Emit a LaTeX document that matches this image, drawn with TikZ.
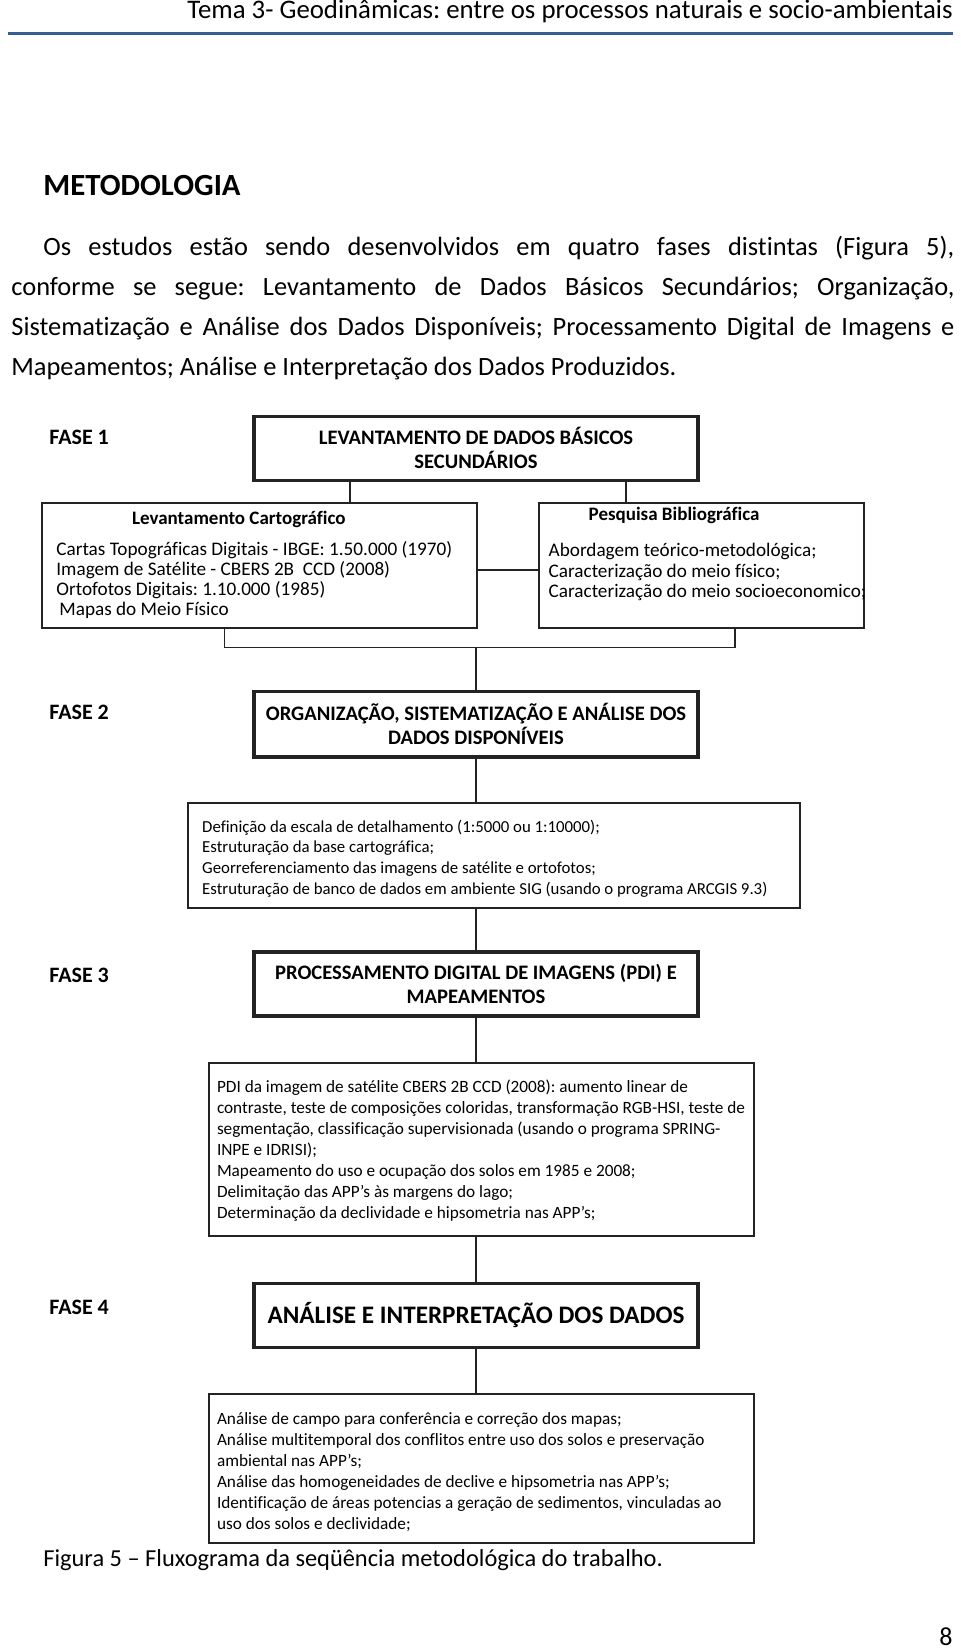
\documentclass[tikz,border=0pt]{standalone}
\usepackage{fontspec}
\setmainfont{Carlito}[Ligatures={TeX,NoCommon}]
\usetikzlibrary{positioning}
\frenchspacing
\definecolor{rulecolor}{RGB}{54,95,145}
\definecolor{inkgray}{RGB}{35,35,35}
\tikzstyle{phasebox} = [rectangle, draw=inkgray, line width=1.6pt, minimum width=222pt, minimum height=32pt, inner sep=0pt, align=center, font=\bfseries\fontsize{10.3}{12}\selectfont]
\tikzstyle{infobox} = [rectangle, draw=inkgray, line width=1pt, inner sep=0pt]
\tikzstyle{phaselabel} = [anchor=base west, inner sep=0pt, font=\bfseries\fontsize{11}{13}\selectfont]
\tikzstyle{boxhead} = [anchor=base west, inner sep=0pt, font=\bfseries\fontsize{9.5}{11}\selectfont]
\tikzstyle{boxlist} = [anchor=base west, inner sep=0pt, text width=220pt, align=flush left, font=\fontsize{9.6}{10.15}\selectfont]
\tikzstyle{smalllist} = [anchor=base west, inner sep=0pt, text width=300pt, align=flush left, font=\fontsize{8.62}{10.5}\selectfont]
\tikzstyle{link} = [draw=inkgray, line width=0.8pt]

\begin{document}
\begin{tikzpicture}[x=0.5pt, y=-0.5pt]
\useasboundingbox (0,0) rectangle (960,1651);
\fill[white] (0,0) rectangle (960,1651);

% page header
\node (header) [anchor=base east, inner sep=0pt, font=\fontsize{13.4}{15}\selectfont] at (953,18.5) {Tema 3- Geodinâmicas: entre os processos naturais e socio-ambientais};
\draw[rulecolor, line width=1.4pt] (8,33.5) -- (953,33.5);

% section text
\node (secao) [anchor=base west, inner sep=0pt, font=\bfseries\fontsize{15.4}{17}\selectfont] at (43,195) {METODOLOGIA};
\node (intro) [anchor=base west, inner sep=0pt, text width=471.5pt, align=justify, font=\fontsize{13.2}{20}\selectfont] at (11,255) {\hspace*{16pt}Os estudos estão sendo desenvolvidos em quatro fases distintas (Figura 5),\linebreak conforme se segue: Levantamento de Dados Básicos Secundários; Organização,\linebreak Sistematização e Análise dos Dados Disponíveis; Processamento Digital de Imagens e\linebreak Mapeamentos; Análise e Interpretação dos Dados Produzidos.};

% fase 1
\node (fase1lbl) [phaselabel] at (49,444.3) {FASE 1};
\node (fase1box) [phasebox] at (476,448.4) {LEVANTAMENTO DE DADOS BÁSICOS\\SECUNDÁRIOS};
\node (cart) [infobox, minimum width=217.5pt, minimum height=62.5pt] at (259.2,565.8) {};
\node (carthead) [boxhead] at (131.7,524.3) {Levantamento Cartográfico};
\node (cartlist) [boxlist] at (56,555) {Cartas Topográficas Digitais - IBGE: 1.50.000 (1970)\\Imagem de Satélite - CBERS 2B \ CCD (2008)\\Ortofotos Digitais: 1.10.000 (1985)\\\hspace*{1.5pt}Mapas do Meio Físico};
\node (biblio) [infobox, minimum width=162.6pt, minimum height=62.5pt] at (701.7,565.8) {};
\node (bibhead) [boxhead] at (588.3,520) {Pesquisa Bibliográfica};
\node (biblist) [boxlist] at (548.3,556.7) {Abordagem teórico-metodológica;\\Caracterização do meio físico;\\Caracterização do meio socioeconomico;};

% fase 2
\node (fase2lbl) [phaselabel] at (49,719.3) {FASE 2};
\node (fase2box) [phasebox, minimum height=32.6pt] at (476,724.3) {ORGANIZAÇÃO, SISTEMATIZAÇÃO E ANÁLISE DOS\\DADOS DISPONÍVEIS};
\node (fase2det) [infobox, minimum width=306pt, minimum height=52.5pt] at (493.9,855.2) {};
\node (fase2txt) [smalllist, font=\fontsize{8.4}{10.4}\selectfont] at (201.8,832) {Definição da escala de detalhamento (1:5000 ou 1:10000);\\Estruturação da base cartográfica;\\Georreferenciamento das imagens de satélite e ortofotos;\\Estruturação de banco de dados em ambiente SIG (usando o programa ARCGIS 9.3)};

% fase 3
\node (fase3lbl) [phaselabel] at (49,982) {FASE 3};
\node (fase3box) [phasebox] at (476,984) {PROCESSAMENTO DIGITAL DE IMAGENS (PDI) E\\MAPEAMENTOS};
\node (fase3det) [infobox, minimum width=272.5pt, minimum height=86.7pt] at (481.5,1149.4) {};
\node (fase3txt) [smalllist] at (216.6,1092) {PDI da imagem de satélite CBERS 2B CCD (2008): aumento linear de\\contraste, teste de composições coloridas, transformação RGB-HSI, teste de\\segmentação, classificação supervisionada (usando o programa SPRING-\\INPE e IDRISI);\\Mapeamento do uso e ocupação dos solos em 1985 e 2008;\\Delimitação das APP’s às margens do lago;\\Determinação da declividade e hipsometria nas APP’s;};

% fase 4
\node (fase4lbl) [phaselabel] at (49,1314.3) {FASE 4};
\node (fase4box) [phasebox, font=\bfseries\fontsize{12.6}{14}\selectfont] at (476,1315.5) {ANÁLISE E INTERPRETAÇÃO DOS DADOS};
\node (fase4det) [infobox, minimum width=272.5pt, minimum height=74.7pt] at (481.5,1468.7) {};
\node (fase4txt) [smalllist] at (216.6,1424.5) {Análise de campo para conferência e correção dos mapas;\\Análise multitemporal dos conflitos entre uso dos solos e preservação\\ambiental nas APP’s;\\Análise das homogeneidades de declive e hipsometria nas APP’s;\\Identificação de áreas potencias a geração de sedimentos, vinculadas ao\\uso dos solos e declividade;};

% connectors
\coordinate (cartup) at (350,0);
\coordinate (bibup) at (626,0);
\coordinate (midrow) at (0,570);
\coordinate (joinL) at (224.3,647.5);
\coordinate (joinR) at (735,647.5);
\coordinate (joinM) at (476,647.5);
\draw[link] (fase1box.south -| cartup) -- (cart.north -| cartup);
\draw[link] (fase1box.south -| bibup) -- (biblio.north -| bibup);
\draw[link] (cart.east |- midrow) -- (biblio.west |- midrow);
\draw[link] (cart.south -| joinL) -- (joinL) -- (joinR) -- (biblio.south -| joinR);
\draw[link] (joinM) -- (fase2box.north);
\draw[link] (fase2box.south) -- (fase2box.south |- fase2det.north);
\draw[link] (fase2det.south -| fase3box.north) -- (fase3box.north);
\draw[link] (fase3box.south) -- (fase3box.south |- fase3det.north);
\draw[link] (fase3det.south -| fase4box.north) -- (fase4box.north);
\draw[link] (fase4box.south) -- (fase4box.south |- fase4det.north);

% caption and page number
\node (legenda) [anchor=base west, inner sep=0pt, font=\fontsize{12.2}{14}\selectfont] at (43,1566.7) {Figura 5 – Fluxograma da seqüência metodológica do trabalho.};
\node (pagina) [anchor=base, inner sep=0pt, font=\fontsize{13}{15}\selectfont] at (946,1645.5) {8};
\end{tikzpicture}
\end{document}
